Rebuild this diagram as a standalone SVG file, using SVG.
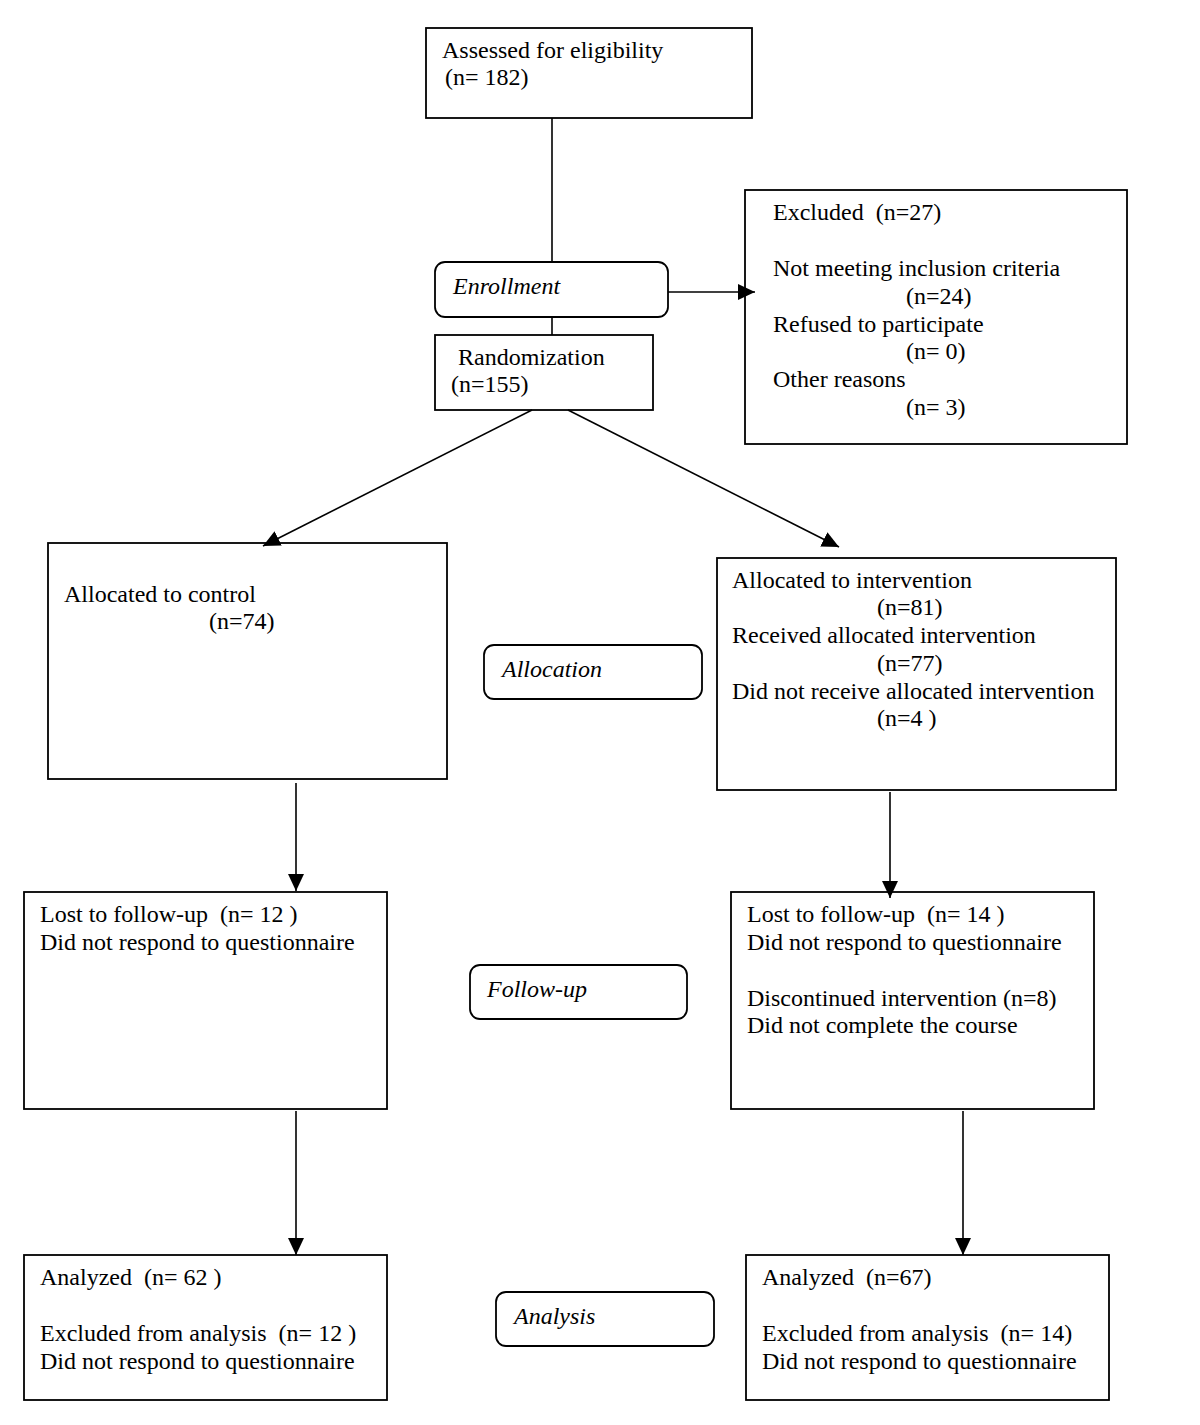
<svg xmlns="http://www.w3.org/2000/svg" width="1200" height="1425" viewBox="0 0 1200 1425">
<style>
.box{fill:#fff;stroke:#000;stroke-width:1.8}
.t{font-family:"Liberation Serif","Times New Roman",serif;font-size:24px;fill:#000}
.i{font-style:italic}
.c{fill:none;stroke:#000;stroke-width:1.6}
</style>
<defs>
<marker id="ah" markerUnits="userSpaceOnUse" markerWidth="18" markerHeight="16" refX="17" refY="8" orient="auto">
<path d="M0,0 L17,8 L0,16 Z" fill="#000"/>
</marker>
</defs>
<rect width="1200" height="1425" fill="#fff"/>
<g id="assessed">
<rect class="box" x="426" y="28" width="326" height="90"/>
<text class="t" x="442" y="58">Assessed for eligibility</text>
<text class="t" x="445" y="85">(n= 182)</text>
</g>
<g id="enrollment">
<rect class="box" x="435" y="262" width="233" height="55" rx="10"/>
<text class="t i" x="453" y="294">Enrollment</text>
</g>
<g id="randomization">
<rect class="box" x="435" y="335" width="218" height="75"/>
<text class="t" x="458" y="365">Randomization</text>
<text class="t" x="451" y="392">(n=155)</text>
</g>
<g id="excluded">
<rect class="box" x="745" y="190" width="382" height="254"/>
<text class="t" x="773" y="220" xml:space="preserve">Excluded  (n=27)</text>
<text class="t" x="773" y="276">Not meeting inclusion criteria</text>
<text class="t" x="906" y="304">(n=24)</text>
<text class="t" x="773" y="332">Refused to participate</text>
<text class="t" x="906" y="359">(n= 0)</text>
<text class="t" x="773" y="387">Other reasons</text>
<text class="t" x="906" y="415">(n= 3)</text>
</g>
<g id="control">
<rect class="box" x="48" y="543" width="399" height="236"/>
<text class="t" x="64" y="602">Allocated to control</text>
<text class="t" x="209" y="629">(n=74)</text>
</g>
<g id="allocation">
<rect class="box" x="484" y="645" width="218" height="54" rx="10"/>
<text class="t i" x="502" y="677">Allocation</text>
</g>
<g id="intervention">
<rect class="box" x="717" y="558" width="399" height="232"/>
<text class="t" x="732" y="588">Allocated to intervention</text>
<text class="t" x="877" y="615">(n=81)</text>
<text class="t" x="732" y="643">Received allocated intervention</text>
<text class="t" x="877" y="671">(n=77)</text>
<text class="t" x="732" y="699">Did not receive allocated intervention</text>
<text class="t" x="877" y="726">(n=4 )</text>
</g>
<g id="lost-control">
<rect class="box" x="24" y="892" width="363" height="217"/>
<text class="t" x="40" y="922" xml:space="preserve">Lost to follow-up  (n= 12 )</text>
<text class="t" x="40" y="950">Did not respond to questionnaire</text>
</g>
<g id="followup">
<rect class="box" x="470" y="965" width="217" height="54" rx="10"/>
<text class="t i" x="487" y="997">Follow-up</text>
</g>
<g id="lost-intervention">
<rect class="box" x="731" y="892" width="363" height="217"/>
<text class="t" x="747" y="922" xml:space="preserve">Lost to follow-up  (n= 14 )</text>
<text class="t" x="747" y="950">Did not respond to questionnaire</text>
<text class="t" x="747" y="1006">Discontinued intervention (n=8)</text>
<text class="t" x="747" y="1033">Did not complete the course</text>
</g>
<g id="analyzed-control">
<rect class="box" x="24" y="1255" width="363" height="145"/>
<text class="t" x="40" y="1285" xml:space="preserve">Analyzed  (n= 62 )</text>
<text class="t" x="40" y="1341" xml:space="preserve">Excluded from analysis  (n= 12 )</text>
<text class="t" x="40" y="1369">Did not respond to questionnaire</text>
</g>
<g id="analysis">
<rect class="box" x="496" y="1292" width="218" height="54" rx="10"/>
<text class="t i" x="514" y="1324">Analysis</text>
</g>
<g id="analyzed-intervention">
<rect class="box" x="746" y="1255" width="363" height="145"/>
<text class="t" x="762" y="1285" xml:space="preserve">Analyzed  (n=67)</text>
<text class="t" x="762" y="1341" xml:space="preserve">Excluded from analysis  (n= 14)</text>
<text class="t" x="762" y="1369">Did not respond to questionnaire</text>
</g>
<g id="connectors">
<line class="c" x1="552" y1="118" x2="552" y2="262"/>
<line class="c" x1="552" y1="317" x2="552" y2="335"/>
<line class="c" x1="668" y1="292" x2="755" y2="292" marker-end="url(#ah)"/>
<line class="c" x1="532" y1="410" x2="263" y2="546" marker-end="url(#ah)"/>
<line class="c" x1="568" y1="410" x2="839" y2="547" marker-end="url(#ah)"/>
<line class="c" x1="296" y1="783" x2="296" y2="891" marker-end="url(#ah)"/>
<line class="c" x1="890" y1="792" x2="890" y2="898" marker-end="url(#ah)"/>
<line class="c" x1="296" y1="1111" x2="296" y2="1255" marker-end="url(#ah)"/>
<line class="c" x1="963" y1="1111" x2="963" y2="1255" marker-end="url(#ah)"/>
</g>
</svg>
